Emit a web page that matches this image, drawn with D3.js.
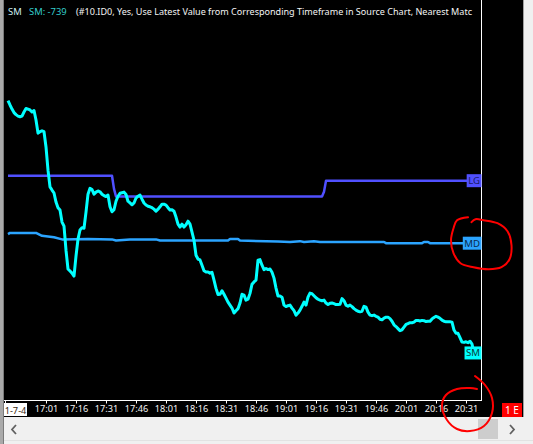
<!DOCTYPE html>
<html>
<head>
<meta charset="utf-8">
<script src="https://cdn.jsdelivr.net/npm/d3@7"></script>
<style>
  html, body { margin: 0; padding: 0; background: #f0f0f0; overflow: hidden; }
  svg { display: block; }
  text { font-family: "Noto Sans", sans-serif; }
</style>
</head>
<body>
<svg id="chart"></svg>
<script>
// ---- data ----
const smStart = "16:42"; // one value per minute from here
const smValues = [
  121, 106, 92, 80, 73, 68, 66, 68, 82, 94,
  92, 89, 82, 87, 55, 10, 15, 18, 15, -37,
  -116, -173, -184, -194, -225, -244, -252, -293, -307, -389,
  -453, -460, -467, -477, -409, -351, -320, -312, -314, -259,
  -198, -178, -182, -198, -191, -187, -190, -198, -203, -206,
  -201, -241, -258, -251, -222, -205, -195, -193, -191, -199,
  -222, -228, -234, -228, -211, -205, -201, -215, -228, -235,
  -239, -241, -244, -249, -256, -249, -241, -232, -232, -235,
  -244, -252, -251, -256, -276, -300, -310, -300, -310, -302,
  -290, -300, -327, -355, -406, -419, -422, -440, -459, -463,
  -463, -467, -464, -491, -519, -540, -539, -527, -539, -552,
  -566, -576, -586, -603, -595, -588, -569, -539, -542, -559,
  -556, -536, -505, -497, -491, -423, -421, -440, -455, -451,
  -455, -453, -464, -484, -518, -545, -545, -549, -576, -581,
  -578, -576, -586, -595, -610, -603, -593, -580, -566, -576,
  -549, -535, -537, -544, -551, -556, -559, -561, -559, -569,
  -574, -570, -569, -571, -574, -574, -573, -554, -561, -576,
  -580, -576, -581, -588, -593, -597, -599, -597, -580, -583,
  -600, -610, -612, -610, -614, -617, -624, -626, -620, -617,
  -617, -622, -631, -643, -649, -656, -663, -660, -651, -642,
  -639, -636, -636, -634, -628, -628, -630, -628, -629, -632,
  -631, -631, -623, -618, -614, -617, -621, -627, -631, -633,
  -633, -633, -634, -661, -672, -672, -687, -702, -703, -701,
  -704, -699, -709, -739
];

const lgTimes = ["16:42", "17:34", "17:35", "17:36", "19:19", "19:20", "19:21", "20:35"];
const lgValues = [-135, -135, -180, -206, -206, -190, -152, -152];

const mdTimes = ["16:42", "16:43", "16:56", "16:59", "17:05", "17:09", "17:22", "17:34", "17:36",
  "17:43", "17:56", "17:58", "18:32", "18:33", "18:37", "18:38", "18:57", "19:03", "19:08",
  "19:10", "19:15", "19:18", "19:50", "19:51", "20:09", "20:10", "20:12", "20:13", "20:35"];
const mdValues = [-334, -330, -330, -340, -345, -352, -351, -352, -356,
  -352, -352, -356, -356, -351, -351, -356, -359, -361, -358,
  -361, -358, -361, -361, -365, -365, -361, -361, -365, -365];

const yTicks = [400, 300, 200, 100, 0, -100, -200, -300, -400, -500, -600, -700, -800, -900];
const xTickTimes = ["17:01", "17:16", "17:31", "17:46", "18:01", "18:16", "18:31", "18:46",
  "19:01", "19:16", "19:31", "19:46", "20:01", "20:16", "20:31"];
const dateLabel = "1-7-4";
const headerParts = ["SM", "SM: -739",
  "(#10.ID0, Yes, Use Latest Value from Corresponding Timeframe in Source Chart, Nearest Matc"];

// ---- layout ----
const W = 533, H = 444;
const plot = { left: 4, right: 481.5, top: 0, bottom: 401 };
const panelRight = 523;
const scroll = { top: 417, bottom: 440 };

const svg = d3.select("#chart").attr("width", W).attr("height", H);
const parse = d3.timeParse("%H:%M");

const x = d3.scaleTime()
  .domain([parse("16:41"), parse("20:39")])
  .range([6, 482]);

const y = d3.scaleLinear()
  .domain([-900, 400])
  .range([400.2, 18.7]);

// window background pieces
svg.append("rect").attr("x", 0).attr("y", 0).attr("width", W).attr("height", H).attr("fill", "#f0f0f0");
svg.append("rect").attr("x", plot.left).attr("y", 0)
  .attr("width", panelRight - plot.left).attr("height", scroll.top).attr("fill", "#000");
svg.append("rect").attr("x", 0).attr("y", 0).attr("width", 3).attr("height", H).attr("fill", "#a9a9a9");
svg.append("line").attr("x1", 3.5).attr("x2", 3.5).attr("y1", 0).attr("y2", H).attr("stroke", "#7a7a7a");
svg.append("line").attr("x1", panelRight + 0.5).attr("x2", panelRight + 0.5).attr("y1", 0).attr("y2", scroll.top)
  .attr("stroke", "#a0a0a0");

// clip for plot content
const defs = svg.append("defs");
defs.append("clipPath").attr("id", "plotClip").append("rect")
  .attr("x", plot.left).attr("y", 0).attr("width", plot.right - plot.left).attr("height", plot.bottom);
defs.append("clipPath").attr("id", "yClip").append("rect")
  .attr("x", plot.right).attr("y", 0).attr("width", panelRight - plot.right).attr("height", plot.bottom);

// series
const smData = smValues.map((v, i) => ({ t: d3.timeMinute.offset(parse(smStart), i), v }));
const lgData = lgTimes.map((t, i) => ({ t: parse(t), v: lgValues[i] }));
const mdData = mdTimes.map((t, i) => ({ t: parse(t), v: mdValues[i] }));

const line = d3.line().x(d => x(d.t)).y(d => y(d.v));

const series = [
  { name: "LG", data: lgData, color: "#5050ff", width: 2.5, text: "#1a1a66" },
  { name: "MD", data: mdData, color: "#2ba4ff", width: 2.5, text: "#0b2a4a" },
  { name: "SM", data: smData, color: "#00ffff", width: 3, text: "#0a3a3a" }
];

const gLines = svg.append("g").attr("clip-path", "url(#plotClip)");
gLines.selectAll("path")
  .data(series)
  .join("path")
  .attr("d", d => line(d.data))
  .attr("fill", "none")
  .attr("stroke", d => d.color)
  .attr("stroke-width", d => d.width)
  .attr("stroke-linejoin", "round");

// axes lines
svg.append("line").attr("x1", plot.right).attr("x2", plot.right).attr("y1", 0).attr("y2", plot.bottom)
  .attr("stroke", "#fff");
svg.append("line").attr("x1", plot.left).attr("x2", plot.right).attr("y1", plot.bottom - 0.5).attr("y2", plot.bottom - 0.5)
  .attr("stroke", "#fff");

// y axis
const yAxis = svg.append("g")
  .attr("transform", `translate(${plot.right},0)`)
  .attr("clip-path", "url(#yClip)")
  .call(d3.axisRight(y).tickValues(yTicks).tickSize(3).tickSizeOuter(0).tickPadding(2));
yAxis.select(".domain").remove();
yAxis.selectAll(".tick line").attr("stroke", "#fff");
yAxis.selectAll(".tick text")
  .attr("fill", "#f2f2f2")
  .style("font-family", "\"Noto Sans\", sans-serif")
  .style("font-size", "9.2px");

// x axis
const xAxis = svg.append("g")
  .attr("transform", `translate(0,${plot.bottom - 0.5})`)
  .call(d3.axisBottom(x)
    .tickValues(xTickTimes.map(parse))
    .tickFormat(d3.timeFormat("%H:%M"))
    .tickSize(3).tickSizeOuter(0).tickPadding(2));
xAxis.select(".domain").remove();
xAxis.selectAll(".tick line").attr("stroke", "#fff");
xAxis.selectAll(".tick text")
  .attr("fill", "#f2f2f2")
  .style("font-family", "\"Noto Sans\", sans-serif")
  .style("font-size", "9.2px");

// date label at left edge
svg.append("line").attr("x1", 5.5).attr("x2", 5.5).attr("y1", plot.bottom).attr("y2", plot.bottom + 3).attr("stroke", "#fff");
svg.append("rect").attr("x", 4).attr("y", 403).attr("width", 23).attr("height", 13).attr("fill", "#fff");
svg.append("text").attr("x", 15.5).attr("y", 413.5).attr("text-anchor", "middle")
  .attr("fill", "#3a2a10").style("font-size", "9.2px").text(dateLabel);

// "1 E" badge
svg.append("rect").attr("x", 502).attr("y", 403).attr("width", 20).attr("height", 14).attr("fill", "#ff0000");
svg.append("text").attr("x", 512).attr("y", 414).attr("text-anchor", "middle")
  .attr("fill", "#fff").style("font-size", "10px").text("1 E");

// last-value labels at the axis
const labels = svg.append("g");
series.forEach(s => {
  const last = s.data[s.data.length - 1];
  const g = labels.append("g").attr("transform", `translate(${plot.right},${y(last.v)})`);
  const t = g.append("text")
    .attr("x", -1.5).attr("dy", "0.36em").attr("text-anchor", "end")
    .attr("fill", s.text).style("font-size", "9.6px").text(s.name);
  const w = t.node().getComputedTextLength() + 3;
  g.insert("rect", "text").attr("x", -w).attr("y", -6.5).attr("width", w).attr("height", 13).attr("fill", s.color);
});

// header
const head = svg.append("g");
const headX = [8, 29, 76];
const headColors = ["#cdeef0", "#33cccc", "#f4f4f4"];
const headText = head.selectAll("text")
  .data(headerParts)
  .join("text")
  .attr("x", (d, i) => headX[i])
  .attr("y", 15)
  .attr("fill", (d, i) => headColors[i])
  .style("font-size", "9.4px")
  .text(d => d);
// squeeze the long part so it stops just short of the axis
const longText = headText.filter((d, i) => i === 2);
if (longText.node().getComputedTextLength() > 472 - 76) {
  longText.attr("textLength", 472 - 76).attr("lengthAdjust", "spacingAndGlyphs");
}

// scrollbar
svg.append("rect").attr("x", 4).attr("y", scroll.top).attr("width", W - 4).attr("height", scroll.bottom - scroll.top)
  .attr("fill", "#f0f0f0");
svg.append("rect").attr("x", 478).attr("y", scroll.top + 2).attr("width", 20).attr("height", 20).attr("fill", "#cdcdcd");
svg.append("path").attr("d", `M16,${scroll.top + 8}l-4,4.5l4,4.5`).attr("fill", "none")
  .attr("stroke", "#606060").attr("stroke-width", 1.8);
svg.append("path").attr("d", `M510,${scroll.top + 8}l4,4.5l-4,4.5`).attr("fill", "none")
  .attr("stroke", "#606060").attr("stroke-width", 1.8);
svg.append("line").attr("x1", 4).attr("x2", W).attr("y1", scroll.bottom + 0.5).attr("y2", scroll.bottom + 0.5)
  .attr("stroke", "#e2e2e2");

// hand-drawn red marks (offsets from the item they circle)
const mdLoop = [[-13.5, -26], [-24.5, -23], [-28, -15], [-30.5, -3], [-28, 10], [-21, 20], [-8, 24], [7, 26],
  [20, 24], [28, 16], [30, 2], [26, -12], [16, -20], [2, -23], [-6, -24], [-10, -21]];
const timeLoop = [[9, -25], [19, -16], [26, -3], [26, 12], [18, 25], [4, 30], [-9, 28], [-19, 19],
  [-24, 4], [-20, -6], [-9, -12], [4, -13], [11, -12]];
const mdAnchor = [plot.right, y(mdValues[mdValues.length - 1])];
const timeAnchor = [x(parse("20:31")), plot.bottom];
const hand = d3.line().curve(d3.curveCatmullRom);
[[mdLoop, mdAnchor], [timeLoop, timeAnchor]].forEach(([pts, a]) => {
  svg.append("path")
    .attr("d", hand(pts.map(p => [a[0] + p[0], a[1] + p[1]])))
    .attr("fill", "none").attr("stroke", "#ff0000").attr("stroke-width", 2)
    .attr("stroke-linecap", "round");
});
</script>
</body>
</html>
